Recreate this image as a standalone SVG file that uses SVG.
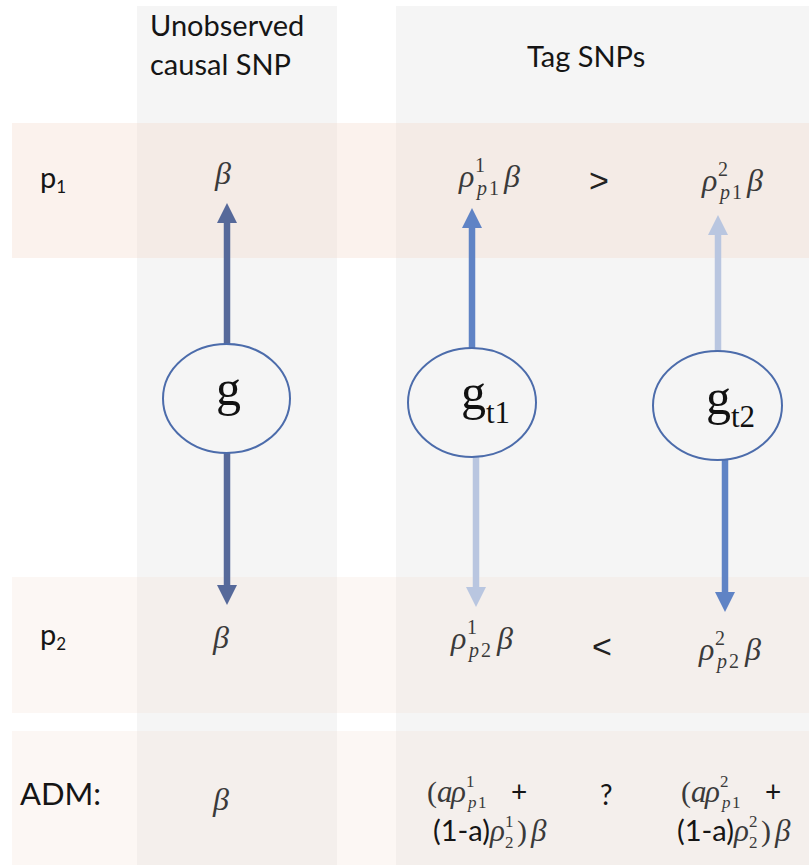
<svg xmlns="http://www.w3.org/2000/svg" width="809" height="865" viewBox="0 0 809 865">
  <defs>
    <style>
      .lbl { font-family: Lato, "Liberation Sans", sans-serif; fill: #151515; }
      .op { font-family: "Liberation Sans", sans-serif; fill: #222; font-size: 34px; }
      .m { font-family: "Liberation Serif", "DejaVu Serif", serif; font-style: italic; fill: #3a3a3a; font-size: 32px; }
      .ma { font-family: "Liberation Serif", "DejaVu Serif", serif; font-style: italic; fill: #3a3a3a; font-size: 31px; }
      .mu { font-family: "Liberation Serif", "DejaVu Serif", serif; fill: #3a3a3a; font-size: 30px; }
      .s { font-family: "Liberation Serif", "DejaVu Serif", serif; fill: #3a3a3a; font-size: 20px; }
      .sa { font-family: "Liberation Serif", "DejaVu Serif", serif; fill: #3a3a3a; font-size: 17px; }
      .si { font-style: italic; }
      .node ellipse { fill: #F5F5F5; stroke: #4C6CAB; stroke-width: 2; }
      .node text { font-family: "Liberation Serif", "Times New Roman", serif; fill: #111; }
      .conn line { stroke-width: 6.5; fill: none; }
    </style>
    <marker id="hd-dark" markerUnits="userSpaceOnUse" markerWidth="20" markerHeight="20" refX="0" refY="10" orient="auto">
      <path d="M0,0 L20,10 L0,20 z" fill="#56699A"/>
    </marker>
    <marker id="hd-mid" markerUnits="userSpaceOnUse" markerWidth="20" markerHeight="20" refX="0" refY="10" orient="auto">
      <path d="M0,0 L20,10 L0,20 z" fill="#5F83C5"/>
    </marker>
    <marker id="hd-light" markerUnits="userSpaceOnUse" markerWidth="20" markerHeight="20" refX="0" refY="10" orient="auto">
      <path d="M0,0 L20,10 L0,20 z" fill="#B9C6E0"/>
    </marker>
  </defs>

  <!-- background bands -->
  <g id="background">
    <rect x="0" y="0" width="809" height="865" fill="#FFFFFF"/>
    <rect x="137" y="6" width="200" height="859" fill="#F5F5F5"/>
    <rect x="396" y="6" width="413" height="859" fill="#F5F5F5"/>
    <rect x="12" y="123" width="797" height="135" fill="#F3D9CC" fill-opacity="0.35"/>
    <rect x="12" y="577" width="797" height="136" fill="#F3D9CC" fill-opacity="0.22"/>
    <rect x="12" y="731" width="797" height="134" fill="#F3D9CC" fill-opacity="0.22"/>
  </g>

  <!-- column headers -->
  <g id="headers" class="lbl" font-size="29">
    <text x="150" y="36">Unobserved</text>
    <text x="150" y="75">causal SNP</text>
    <text x="527" y="67">Tag SNPs</text>
  </g>

  <!-- row labels -->
  <g id="row-labels" class="lbl">
    <text x="40" y="188" font-size="29">p<tspan font-size="17" dy="5">1</tspan></text>
    <text x="40" y="645" font-size="29">p<tspan font-size="17" dy="5">2</tspan></text>
    <text x="20" y="805" font-size="31">ADM:</text>
  </g>

  <!-- effect arrows -->
  <g id="connectors" class="conn">
    <line x1="227" y1="344" x2="227" y2="223" stroke="#56699A" marker-end="url(#hd-dark)"/>
    <line x1="227" y1="453" x2="227" y2="585" stroke="#56699A" marker-end="url(#hd-dark)"/>
    <line x1="472" y1="349" x2="472" y2="228" stroke="#5F83C5" marker-end="url(#hd-mid)"/>
    <line x1="476" y1="457" x2="476" y2="587" stroke="#B9C6E0" marker-end="url(#hd-light)"/>
    <line x1="718" y1="351" x2="718" y2="235" stroke="#B9C6E0" marker-end="url(#hd-light)"/>
    <line x1="725" y1="460" x2="725" y2="592" stroke="#5F83C5" marker-end="url(#hd-mid)"/>
  </g>

  <!-- genotype nodes -->
  <g id="node-g" class="node">
    <ellipse cx="226.5" cy="398.5" rx="63.5" ry="54.5"/>
    <text x="216" y="405" font-size="50">g</text>
  </g>
  <g id="node-gt1" class="node">
    <ellipse cx="472" cy="402.5" rx="64" ry="54.5"/>
    <text x="461" y="409" font-size="50">g<tspan font-size="31" dy="14">t1</tspan></text>
  </g>
  <g id="node-gt2" class="node">
    <ellipse cx="717.5" cy="405.5" rx="64.5" ry="54.5"/>
    <text x="706" y="414" font-size="50">g<tspan font-size="31" dy="13">t2</tspan></text>
  </g>

  <!-- population p1 effects -->
  <g id="row-p1">
    <text class="m" x="215" y="184">β</text>
    <text class="m" x="459" y="187">ρ</text>
    <text class="s" x="475" y="172">1</text>
    <text class="s si" x="477" y="195">p</text>
    <text class="s" x="489" y="195">1</text>
    <text class="m" x="504" y="187">β</text>
    <text class="op" x="589" y="192">&gt;</text>
    <text class="m" x="702" y="191">ρ</text>
    <text class="s" x="718" y="176">2</text>
    <text class="s si" x="720" y="199">p</text>
    <text class="s" x="732" y="199">1</text>
    <text class="m" x="747" y="191">β</text>
  </g>

  <!-- population p2 effects -->
  <g id="row-p2">
    <text class="m" x="213" y="648">β</text>
    <text class="m" x="451" y="649">ρ</text>
    <text class="s" x="467" y="634">1</text>
    <text class="s si" x="469" y="657">p</text>
    <text class="s" x="481" y="657">2</text>
    <text class="m" x="497" y="649">β</text>
    <text class="op" x="592" y="658">&lt;</text>
    <text class="m" x="699" y="660">ρ</text>
    <text class="s" x="715" y="645">2</text>
    <text class="s si" x="717" y="668">p</text>
    <text class="s" x="729" y="668">2</text>
    <text class="m" x="745" y="660">β</text>
  </g>

  <!-- admixed population effects -->
  <g id="row-adm">
    <text class="m" x="213" y="810">β</text>

    <text class="mu" x="427" y="802">(</text>
    <text class="ma" x="437" y="802">a</text>
    <text class="ma" x="451" y="802">ρ</text>
    <text class="sa" x="466" y="787">1</text>
    <text class="sa si" x="468" y="808">p</text>
    <text class="sa" x="478" y="808">1</text>
    <text class="lbl" x="511" y="802" font-size="28">+</text>
    <text class="lbl" x="433" y="841" font-size="29">(1-a)</text>
    <text class="ma" x="490" y="841">ρ</text>
    <text class="sa" x="505" y="827">1</text>
    <text class="sa" x="505" y="848">2</text>
    <text class="mu" x="517" y="841">)</text>
    <text class="ma" x="531" y="841">β</text>

    <text class="lbl" x="600" y="805" font-size="28">?</text>

    <text class="mu" x="681" y="802">(</text>
    <text class="ma" x="691" y="802">a</text>
    <text class="ma" x="705" y="802">ρ</text>
    <text class="sa" x="720" y="787">2</text>
    <text class="sa si" x="722" y="808">p</text>
    <text class="sa" x="732" y="808">1</text>
    <text class="lbl" x="765" y="802" font-size="28">+</text>
    <text class="lbl" x="677" y="841" font-size="29">(1-a)</text>
    <text class="ma" x="734" y="841">ρ</text>
    <text class="sa" x="749" y="827">2</text>
    <text class="sa" x="749" y="848">2</text>
    <text class="mu" x="761" y="841">)</text>
    <text class="ma" x="775" y="841">β</text>
  </g>
</svg>
